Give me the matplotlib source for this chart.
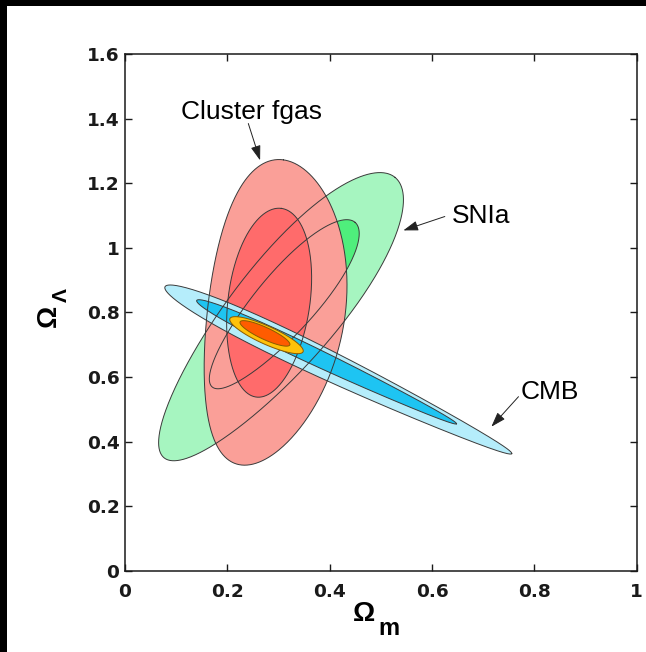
import numpy as np
import matplotlib
matplotlib.use("Agg")
import matplotlib.pyplot as plt
from matplotlib.patches import Rectangle

plt.rcParams['font.family'] = ['Liberation Sans', 'DejaVu Sans']

# Axis ticks
x_ticks = [0, 0.2, 0.4, 0.6, 0.8, 1]
x_tick_labels = ["0", "0.2", "0.4", "0.6", "0.8", "1"]
y_ticks = [0, 0.2, 0.4, 0.6, 0.8, 1.0, 1.2, 1.4, 1.6]
y_tick_labels = ["0", "0.2", "0.4", "0.6", "0.8", "1", "1.2", "1.4", "1.6"]

# Confidence regions, outer (95%) then inner (68%) for each probe.
# centre (Omega_m, Omega_Lambda); semi-axes a, b in axis-width units;
# orientation in degrees; taper widens one end, bend curves the long axis.
snia_cx = [0.302, 0.310]
snia_cy = [0.784, 0.824]
snia_a = [0.355, 0.213]
snia_b = [0.102, 0.058]
snia_ang = [50.5, 49.0]
snia_taper = [0.12, 0.10]
snia_bend = [0.0, 0.0]

fgas_cx = [0.295, 0.281]
fgas_cy = [0.794, 0.830]
fgas_a = [0.301, 0.186]
fgas_b = [0.134, 0.080]
fgas_ang = [82.0, 82.4]
fgas_taper = [0.05, 0.03]
fgas_bend = [0.0275, 0.0]

cmb_cx = [0.417, 0.394]
cmb_cy = [0.621, 0.646]
cmb_a = [0.376, 0.281]
cmb_b = [0.028, 0.016]
cmb_ang = [-25.7, -25.4]
cmb_taper = [-0.35, -0.30]
cmb_bend = [0.0, 0.0]

comb_cx = [0.2765, 0.2735]
comb_cy = [0.7295, 0.735]
comb_a = [0.0785, 0.0535]
comb_b = [0.0176, 0.0117]
comb_ang = [-24.4, -24.9]
comb_taper = [0.0, 0.0]
comb_bend = [0.0, 0.0]

snia_colors = ["#a6f5c0", "#4fee7c"]
fgas_colors = ["#fa9f98", "#ff6b6b"]
cmb_colors = ["#b5edfb", "#1ec4f2"]
comb_colors = ["#ffc20a", "#ff5c00"]
edge_color = "#3a3a3a"

# probe labels: text anchor (left, baseline), arrow tail and arrow tip
label_text = ["Cluster fgas", "SNIa", "CMB"]
label_xy = [(0.110, 1.398), (0.6385, 1.078), (0.774, 0.531)]
arrow_tail = [(0.241, 1.385), (0.625, 1.097), (0.769, 0.539)]
arrow_tip = [(0.264, 1.271), (0.544, 1.054), (0.716, 0.446)]

W_PX, H_PX = 646, 652
fig = plt.figure(figsize=(W_PX / 100, H_PX / 100), dpi=100)
fig.patch.set_facecolor("white")
ax = fig.add_axes([0.1935, 0.1247, 0.7921, 0.7923])
ax.set_xlim(0, 1)
ax.set_ylim(0, 1.6)

# display length of one Omega_Lambda unit relative to one Omega_m unit
pos = ax.get_position()
aspect = (pos.height * H_PX / 1.6) / (pos.width * W_PX / 1.0)


def region(cx, cy, a, b, ang, taper, bend, n=600):
    t = np.linspace(0, 2 * np.pi, n)
    u = a * np.cos(t)
    v = b * np.sin(t) * (1 + taper * np.cos(t)) + bend * np.cos(t) ** 2
    th = np.deg2rad(ang)
    X = cx + u * np.cos(th) - v * np.sin(th)
    Y = cy * aspect + u * np.sin(th) + v * np.cos(th)
    return X, Y / aspect


def probe(*params):
    return [region(*p) for p in zip(*params)]


snia = probe(snia_cx, snia_cy, snia_a, snia_b, snia_ang, snia_taper, snia_bend)
fgas = probe(fgas_cx, fgas_cy, fgas_a, fgas_b, fgas_ang, fgas_taper, fgas_bend)
cmb = probe(cmb_cx, cmb_cy, cmb_a, cmb_b, cmb_ang, cmb_taper, cmb_bend)
comb = probe(comb_cx, comb_cy, comb_a, comb_b, comb_ang, comb_taper, comb_bend)

# filled regions, then outlines on top
for shapes, cols in [(snia, snia_colors), (fgas, fgas_colors), (cmb, cmb_colors)]:
    for (X, Y), c in zip(shapes, cols):
        ax.fill(X, Y, color=c, lw=0, zorder=2)
for shapes in [snia, fgas, cmb]:
    for X, Y in shapes:
        ax.plot(X, Y, color=edge_color, lw=0.7, zorder=3)
for (X, Y), c in zip(comb, comb_colors):
    ax.fill(X, Y, facecolor=c, edgecolor="#8a5a00", lw=0.7, zorder=4)

# ticks and frame
ax.set_xticks(x_ticks)
ax.set_xticklabels(x_tick_labels)
ax.set_yticks(y_ticks)
ax.set_yticklabels(y_tick_labels)
ax.tick_params(direction="in", length=5, width=1, top=True, right=True,
               colors="#1a1a1a")
ax.tick_params(axis="x", pad=9)
ax.tick_params(axis="y", pad=4)
for lab in ax.get_xticklabels() + ax.get_yticklabels():
    lab.set_fontfamily("DejaVu Sans")
    lab.set_fontweight("bold")
    lab.set_fontsize(13.3)
for s in ax.spines.values():
    s.set_linewidth(1.1)
    s.set_color("#1a1a1a")


def px(x, y):
    return x / W_PX, 1 - y / H_PX


# axis titles: Omega with subscripts
fig.text(*px(364, 621), "\u03a9", fontsize=20, fontweight="bold",
         ha="center", va="baseline")
fig.text(*px(378, 635), "m", fontsize=17, fontweight="bold",
         ha="left", va="baseline")
fig.text(*px(56, 316), "\u03a9", fontsize=20, fontweight="bold", rotation=90,
         rotation_mode="anchor", ha="center", va="baseline")
fig.text(*px(67, 302), "\u039b", fontsize=15, fontweight="bold", rotation=90,
         rotation_mode="anchor", ha="left", va="baseline")

# probe labels with arrows
for txt, xy, tail, tip in zip(label_text, label_xy, arrow_tail, arrow_tip):
    ax.text(xy[0], xy[1], txt, fontsize=19, ha="left", va="baseline", zorder=6)
    ax.annotate("", xy=tip, xytext=tail, zorder=6,
                arrowprops=dict(arrowstyle="-|>,head_length=0.75,head_width=0.25",
                                mutation_scale=12, color="#222222", lw=0.7,
                                shrinkA=0, shrinkB=0))

# dark border along the top and left edges
fig.patches.append(Rectangle((0, 0), 7 / W_PX, 1, transform=fig.transFigure,
                             facecolor="black", edgecolor="none", zorder=10))
fig.patches.append(Rectangle((0, 1 - 6 / H_PX), 1, 6 / H_PX, transform=fig.transFigure,
                             facecolor="black", edgecolor="none", zorder=10))

fig.savefig("out.png", dpi=100, facecolor=fig.get_facecolor())
